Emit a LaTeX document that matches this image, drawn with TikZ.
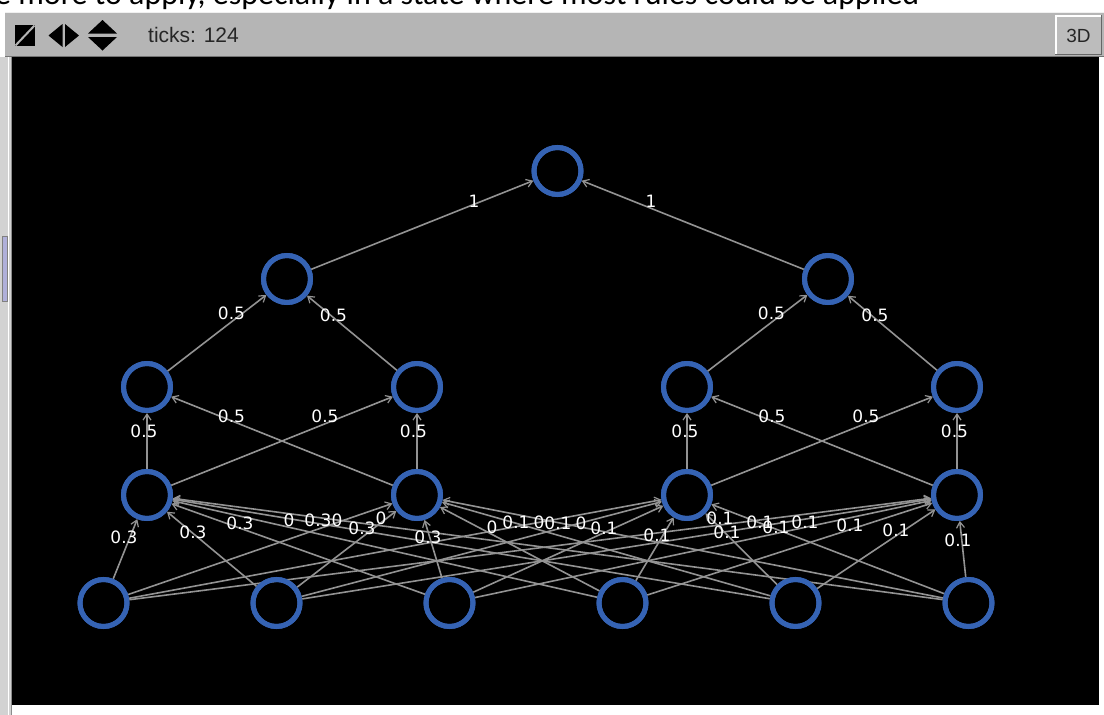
\documentclass[tikz,border=0pt]{standalone}
\usepackage{fontspec}
\setmainfont{DejaVu Sans}
\newfontfamily\uifont{Liberation Sans}
\newfontfamily\docfont{Carlito}
\usetikzlibrary{arrows.meta}

\definecolor{nodeblue}{HTML}{3563B4}
\definecolor{linkgray}{HTML}{939393}
\definecolor{barg}{HTML}{B5B5B5}
\definecolor{stripg}{HTML}{D2D2D2}
\definecolor{thumb}{HTML}{B0B0DA}

\begin{document}
\begin{tikzpicture}[x=1pt,y=-1pt,
  neuron/.style={circle,draw=nodeblue,fill=black,line width=5pt,minimum size=47pt,inner sep=0pt},
  link/.style={draw=linkgray,line width=1.6pt,
    -{Straight Barb[length=6pt,width=8pt,line width=1.2pt]}},
  wt/.style={text=white,font=\fontsize{17}{18}\selectfont,inner sep=0pt},
  uitext/.style={font=\uifont\fontsize{21}{22}\selectfont,text=black!85,inner sep=0pt}
]
\useasboundingbox (0,0) rectangle (1104,715);
\fill[white] (0,0) rectangle (1104,715);

% line of document text cut by the top edge
\begin{scope}
  \clip (0,0) rectangle (1104,12);
  \node[anchor=base west,font=\docfont\fontsize{32}{34}\selectfont,inner sep=0pt]
    (doctext) at (-5,4) {e more to apply, especially in a state where most rules could be applied};
\end{scope}

% view toolbar
\fill[barg] (5,12) rectangle (1104,57);
\draw[white!80!barg,line width=1pt] (5,12.5) -- (1104,12.5);
\draw[black!55,line width=1pt] (5,56.5) -- (1104,56.5);
\fill[black] (15,25) rectangle (35,46);
\draw[barg,line width=2pt] (15.5,45.5) -- (34.5,25.5);
\fill[black] (62.5,24) -- (48.5,35.5) -- (62.5,47) -- cycle;
\fill[black] (65,24) -- (79,35.5) -- (65,47) -- cycle;
\fill[black] (88,33.5) -- (102.5,20) -- (117,33.5) -- cycle;
\fill[black] (88,37) -- (102.5,50.5) -- (117,37) -- cycle;
\node[uitext,anchor=west] (ticks) at (148,35) {ticks: 124};
\fill[black!60] (1055,15) rectangle (1102,55);
\fill[white] (1055,15) rectangle (1100.5,53.5);
\fill[barg!90!white] (1057,17) rectangle (1100.5,53.5);
\node[uitext,font=\uifont\fontsize{19}{20}\selectfont] (threed) at (1078.5,36) {3D};

% side strip with scroll thumb
\fill[stripg] (0,57) rectangle (12,715);
\draw[white,line width=1.5pt] (8.5,57) -- (8.5,715);
\draw[black!45,line width=1pt] (11,57) -- (11,715);
\fill[thumb,draw=black!50,line width=0.8pt] (2.5,236) rectangle (7.5,301);

% world view
\fill[black] (12,57) rectangle (1099,705);

% nodes
\node[neuron] (t)  at (557.5,171) {};
\node[neuron] (m1) at (287,279) {};
\node[neuron] (m2) at (828,279) {};
\node[neuron] (l1) at (147,387) {};
\node[neuron] (l2) at (417,387) {};
\node[neuron] (l3) at (687,387) {};
\node[neuron] (l4) at (957,387) {};
\node[neuron] (h1) at (147,495) {};
\node[neuron] (h2) at (417,495) {};
\node[neuron] (h3) at (687,495) {};
\node[neuron] (h4) at (957,495) {};
\node[neuron] (b1) at (103.5,603) {};
\node[neuron] (b2) at (276.5,603) {};
\node[neuron] (b3) at (449.5,603) {};
\node[neuron] (b4) at (622.5,603) {};
\node[neuron] (b5) at (795.5,603) {};
\node[neuron] (b6) at (968.5,603) {};

% links
\foreach \b in {1,...,6}
  \foreach \h in {1,...,4}
    \draw[link] (b\b) -- (h\h);
\draw[link] (h1) -- (l1);
\draw[link] (h1) -- (l2);
\draw[link] (h2) -- (l1);
\draw[link] (h2) -- (l2);
\draw[link] (h3) -- (l3);
\draw[link] (h3) -- (l4);
\draw[link] (h4) -- (l3);
\draw[link] (h4) -- (l4);
\draw[link] (l1) -- (m1);
\draw[link] (l2) -- (m1);
\draw[link] (l3) -- (m2);
\draw[link] (l4) -- (m2);
\draw[link] (m1) -- (t);
\draw[link] (m2) -- (t);

% redraw node rings on top of links
\foreach \n in {t,m1,m2,l1,l2,l3,l4,h1,h2,h3,h4,b1,b2,b3,b4,b5,b6}
  \draw[nodeblue,line width=5pt] (\n.center) circle[radius=23.5pt];

% link weights
\node[wt] (w1a) at (474,201) {1};
\node[wt] (w1b) at (651,201) {1};
\node[wt] (w2a) at (231.5,313) {0.5};
\node[wt] (w2b) at (333.5,315) {0.5};
\node[wt] (w2c) at (771.5,313) {0.5};
\node[wt] (w2d) at (875,315) {0.5};
\node[wt] (w3a) at (144,431) {0.5};
\node[wt] (w3b) at (413.5,431) {0.5};
\node[wt] (w3c) at (685,431) {0.5};
\node[wt] (w3d) at (954.5,431) {0.5};
\node[wt] (w3e) at (231.5,416) {0.5};
\node[wt] (w3f) at (325,416) {0.5};
\node[wt] (w3g) at (772,416) {0.5};
\node[wt] (w3h) at (866,416) {0.5};
\foreach \x/\y in {124/537,193/532,240/523,318/520,362/528,428/537}
  \node[wt] at (\x,\y) {0.3};
\foreach \x/\y in {289/520,337/520,381/518,492/527,539/522,581/523}
  \node[wt] at (\x,\y) {0};
\foreach \x/\y in {516/522,558/523,604/528,657/535,720/518,727/532,760/522,776/527,805/522,850/525,896/530,958/540}
  \node[wt] at (\x,\y) {0.1};
\end{tikzpicture}
\end{document}
